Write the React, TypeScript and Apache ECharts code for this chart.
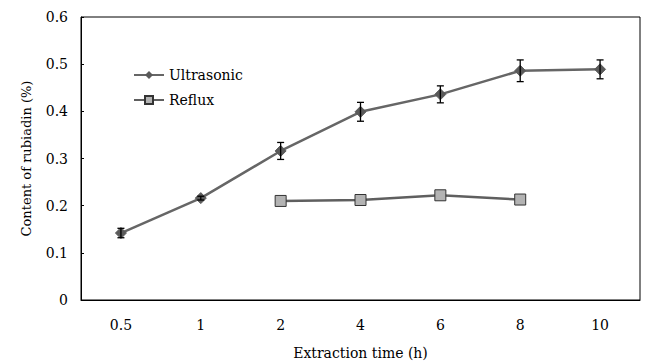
import React, { useEffect, useRef } from "react";
import * as echarts from "echarts";

const categories = ["0.5", "1", "2", "4", "6", "8", "10"];
const ultrasonic = [0.142, 0.216, 0.316, 0.399, 0.436, 0.486, 0.489];
const ultrasonicErr = [0.01, 0.004, 0.018, 0.02, 0.018, 0.023, 0.02];
const reflux: (number | null)[] = [null, null, 0.21, 0.212, 0.222, 0.213, null];
const yTicks = [0, 0.1, 0.2, 0.3, 0.4, 0.5, 0.6];

const FONT = "DejaVu Serif";
const FS = 14;

export default function App() {
  const ref = useRef<HTMLDivElement>(null);
  useEffect(() => {
    if (!ref.current) return;
    const chart = echarts.init(ref.current, undefined, { renderer: "svg" });
    const errData = ultrasonic.map((v, i) => [i, v - ultrasonicErr[i], v + ultrasonicErr[i]]);
    chart.setOption({
      animation: false,
      backgroundColor: "#ffffff",
      textStyle: { fontFamily: FONT },
      grid: { left: 81, right: 5, top: 17, bottom: 61, outerBoundsMode: "none", containLabel: false },
      legend: {
        orient: "vertical",
        left: 128,
        top: 63,
        itemWidth: 30,
        itemHeight: 10,
        itemGap: 11,
        textStyle: { fontFamily: FONT, fontSize: FS, color: "#000" },
        data: ["Ultrasonic", "Reflux"],
      },
      xAxis: {
        type: "category",
        data: categories,
        boundaryGap: true,
        name: "Extraction time (h)",
        nameLocation: "middle",
        nameGap: 46,
        nameTextStyle: { fontFamily: FONT, fontSize: FS, color: "#000" },
        axisLine: { lineStyle: { color: "#000", width: 1 } },
        axisTick: { inside: true, length: 3, alignWithLabel: true, lineStyle: { color: "#000" } },
        axisLabel: { fontFamily: FONT, fontSize: FS, color: "#000", margin: 18 },
        splitLine: { show: false },
      },
      yAxis: {
        type: "value",
        min: 0,
        max: 0.6,
        interval: 0.1,
        name: "Content of rubiadin (%)",
        nameLocation: "middle",
        nameGap: 48,
        nameTextStyle: { fontFamily: FONT, fontSize: 13, color: "#000" },
        axisLine: { show: true, lineStyle: { color: "#000", width: 1 } },
        axisTick: { show: true, inside: true, length: 3, lineStyle: { color: "#000" } },
        axisLabel: {
          fontFamily: FONT,
          fontSize: FS,
          color: "#000",
          margin: 13,
          formatter: (v: number) => {
            const t = yTicks.find((x) => Math.abs(x - v) < 1e-9);
            return t === 0 ? "0" : (t ?? v).toFixed(1);
          },
        },
        splitLine: { show: false },
      },
      graphic: [
        {
          type: "rect",
          shape: { x: 81, y: 17, width: 559, height: 283 },
          style: { fill: "none", stroke: "#000", lineWidth: 1 },
          silent: true,
          z: 0,
        },
      ],
      series: [
        {
          name: "Ultrasonic",
          type: "line",
          data: ultrasonic,
          symbol: "diamond",
          symbolSize: 11,
          lineStyle: { color: "#666666", width: 2.5 },
          itemStyle: { color: "#5a5a5a", borderColor: "#5a5a5a" },
          z: 3,
        },
        {
          name: "Reflux",
          type: "line",
          data: reflux,
          symbol: "rect",
          symbolSize: 11,
          connectNulls: false,
          lineStyle: { color: "#5f5f5f", width: 2.5 },
          itemStyle: { color: "#b3b3b3", borderColor: "#333333", borderWidth: 1 },
          z: 3,
        },
        {
          name: "err",
          type: "custom",
          data: errData,
          z: 5,
          renderItem: (params: any, api: any) => {
            const x = api.value(0);
            const lo = api.coord([x, api.value(1)]);
            const hi = api.coord([x, api.value(2)]);
            const w = 3.5;
            const st = { stroke: "#000", lineWidth: 1.3 };
            return {
              type: "group",
              children: [
                { type: "line", shape: { x1: lo[0], y1: lo[1], x2: hi[0], y2: hi[1] }, style: st },
                { type: "line", shape: { x1: lo[0] - w, y1: lo[1], x2: lo[0] + w, y2: lo[1] }, style: st },
                { type: "line", shape: { x1: hi[0] - w, y1: hi[1], x2: hi[0] + w, y2: hi[1] }, style: st },
              ],
            };
          },
        },
      ],
    });
    return () => chart.dispose();
  }, []);
  return (
    <div
      ref={ref}
      style={{ position: "fixed", left: 0, top: 0, width: 645, height: 361 }}
    />
  );
}
